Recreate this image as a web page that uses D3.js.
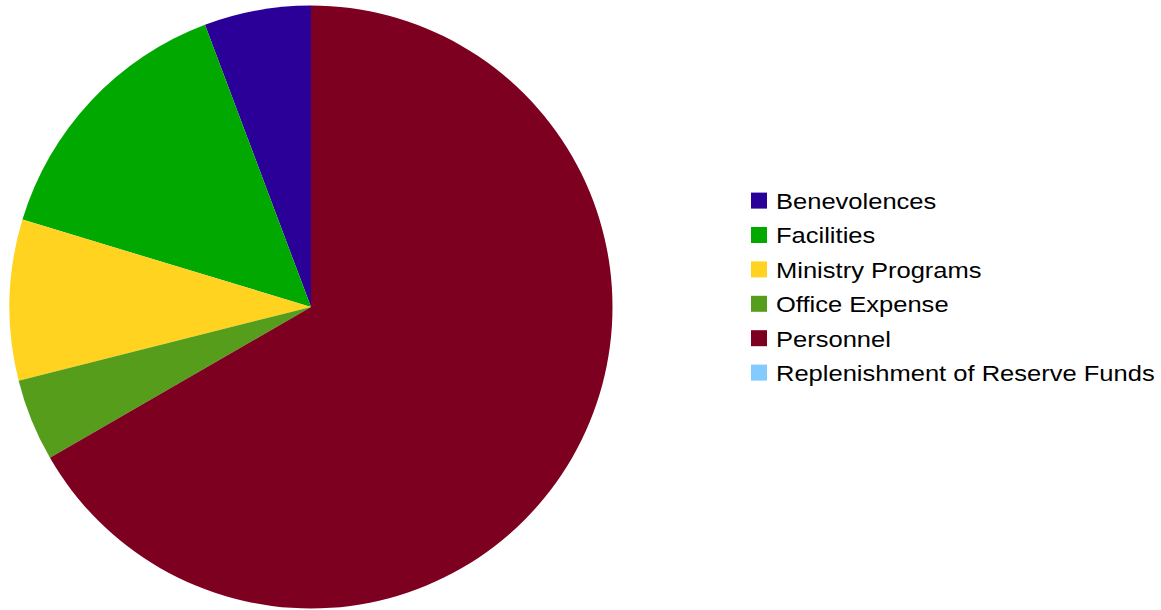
<!DOCTYPE html>
<html>
<head>
<meta charset="utf-8">
<script src="https://cdn.jsdelivr.net/npm/d3@7"></script>
<style>
  html, body { margin: 0; padding: 0; background: #fff; }
  svg { display: block; }
</style>
</head>
<body>
<svg id="chart" width="1161" height="610"></svg>
<script>
// Budget categories and their share of expenses (percent)
const categories = [
  "Benevolences",
  "Facilities",
  "Ministry Programs",
  "Office Expense",
  "Personnel",
  "Replenishment of Reserve Funds"
];
const values = [5.72, 14.6, 8.61, 4.41, 66.66, 0];
const colors = ["#2a0099", "#00a800", "#ffd320", "#579d1c", "#7e0021", "#83caff"];

const svg = d3.select("#chart");
const cx = 311, cy = 307, radius = 301.5;

const color = d3.scaleOrdinal().domain(categories).range(colors);

const rows = categories.map((c, i) => ({ name: c, value: values[i] }));

// Slices run counter-clockwise from 12 o'clock
const pie = d3.pie()
  .sort(null)
  .value(d => d.value)
  .startAngle(0)
  .endAngle(-2 * Math.PI);

const arc = d3.arc().innerRadius(0).outerRadius(radius);

svg.append("g")
  .attr("transform", `translate(${cx},${cy})`)
  .selectAll("path")
  .data(pie(rows))
  .join("path")
  .attr("d", arc)
  .attr("fill", d => color(d.data.name));

// Legend
const legendY = d3.scalePoint()
  .domain(categories)
  .range([209, 381])
  .padding(0);

const legend = svg.append("g")
  .selectAll("g")
  .data(categories)
  .join("g")
  .attr("transform", d => `translate(0,${legendY(d)})`);

legend.append("rect")
  .attr("x", 751)
  .attr("y", -16.4)
  .attr("width", 16)
  .attr("height", 16)
  .attr("fill", d => color(d));

// Legend labels are set in a slightly widened face
legend.append("text")
  .attr("transform", "translate(776,0) scale(1.12,1)")
  .attr("font-family", "'Liberation Sans', Arial, sans-serif")
  .attr("font-size", 22.8)
  .attr("fill", "#000")
  .text(d => d);
</script>
</body>
</html>
